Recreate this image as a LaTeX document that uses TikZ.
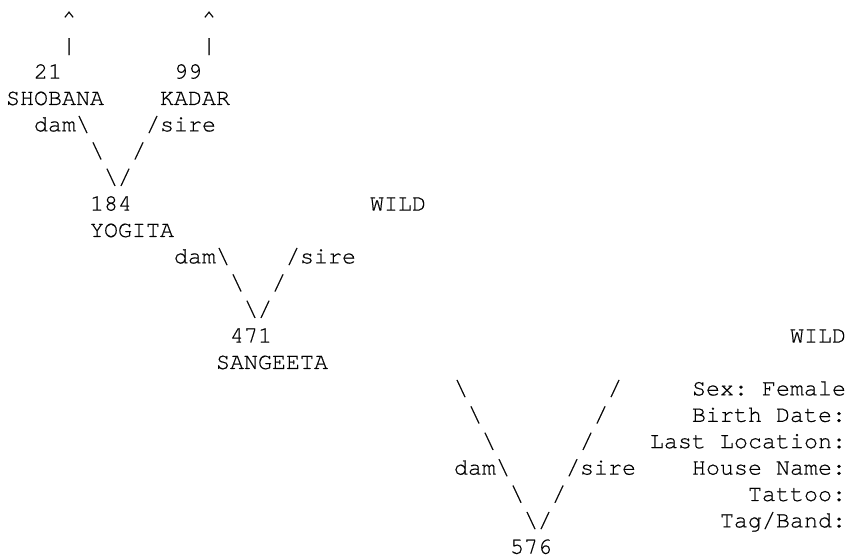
\documentclass[tikz,border=0pt]{standalone}
\usepackage{fontspec}
\setmonofont[FakeBold=0.4]{texgyrecursor-regular.otf}
\newcommand{\pedfont}{\fontsize{11.67pt}{13.2pt}\selectfont\ttfamily}
\newcommand{\bs}{\textbackslash}

\begin{document}
\begin{tikzpicture}[x=7pt,y=-13.2pt,
  cell/.style={anchor=base west,inner sep=0pt,outer sep=0pt,font=\pedfont},
  rcell/.style={cell,anchor=base east}]
\useasboundingbox (-0.4286,-0.977) rectangle (60.07,20.08);

% Unknown parents above the grandparents
\foreach \c in {4,14} {
    \node[cell] (up\c) at (\c,0) {\textasciicircum};
    \node[cell] (bar\c) at (\c,1) {|};
}

% Animals (number over name)
\node[cell] (n21) at (2,2) {21};
\node[cell] (shobana) at (0,3) {SHOBANA};
\node[cell] (n99) at (12,2) {99};
\node[cell] (kadar) at (11,3) {KADAR};
\node[cell] (n184) at (6,7) {184};
\node[cell] (yogita) at (6,8) {YOGITA};
\node[cell] (wildA) at (26,7) {WILD};
\node[cell] (n471) at (16,12) {471};
\node[cell] (sangeeta) at (15,13) {SANGEETA};
\node[cell] (wildB) at (56,12) {WILD};
\node[cell] (n576) at (36,20) {576};

% dam/sire branches
\foreach \r/\c in {4/5, 9/15, 17/35} {
    \node[rcell] (dam\r) at (\c,\r) {dam};
    \node[cell] (dl\r) at (\c,\r) {\bs};
    \node[cell] (sl\r) at (\c+5,\r) {/};
    \node[cell] (sire\r) at (\c+6,\r) {sire};
    \node[cell] (dlA\r) at (\c+1,\r+1) {\bs};
    \node[cell] (slA\r) at (\c+4,\r+1) {/};
    \node[cell] (dlB\r) at (\c+2,\r+2) {\bs};
    \node[cell] (slB\r) at (\c+3,\r+2) {/};
}
% longer branch above the last animal
\foreach \k in {1,2,3} {
    \node[cell] (dlx\k) at (35-\k,17-\k) {\bs};
    \node[cell] (slx\k) at (40+\k,17-\k) {/};
}

% Details
\foreach \r/\txt in {14/Sex: Female, 15/Birth Date:, 16/Last Location:,
                      17/House Name:, 18/Tattoo:, 19/{Tag/Band:}} {
    \node[rcell] (info\r) at (60,\r) {\txt};
}

\end{tikzpicture}
\end{document}
